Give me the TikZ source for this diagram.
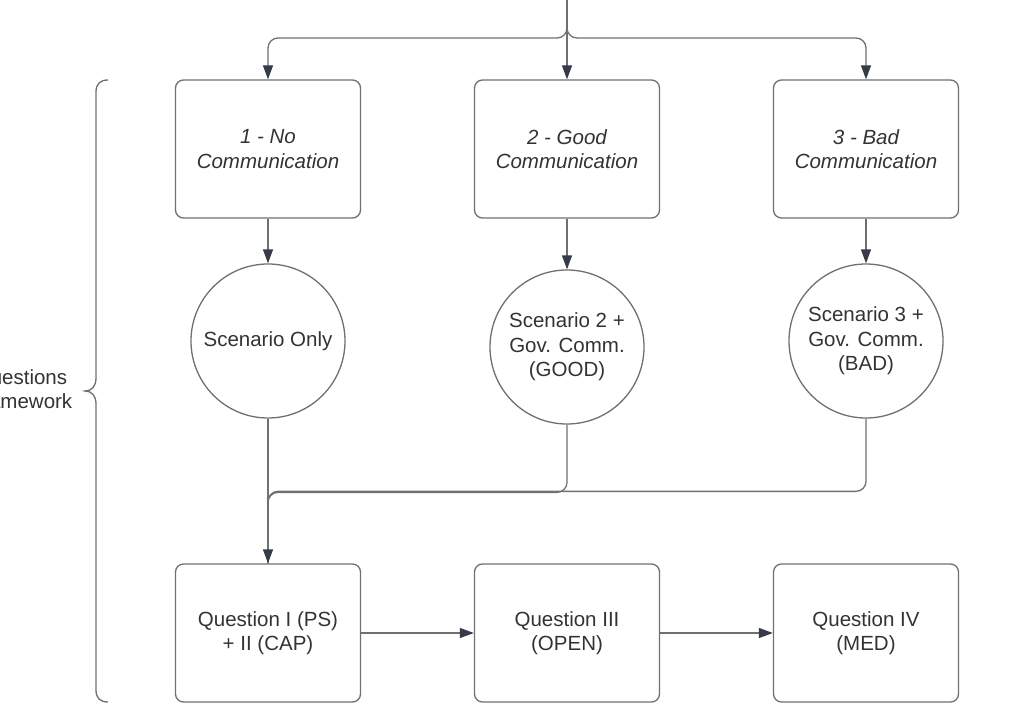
\documentclass[tikz,border=0pt]{standalone}
\usepackage{fontspec}
\setmainfont{Liberation Sans}
\usetikzlibrary{arrows.meta,calc}
\definecolor{linec}{HTML}{707070}
\definecolor{tipc}{HTML}{353B48}
\definecolor{textc}{HTML}{333333}
\tikzset{
  lbl/.style={text=textc, font=\fontsize{20.5}{24.5}\selectfont, align=center},
  stepbox/.style={lbl, draw=linec, line width=1.3pt, rounded corners=8pt,
    minimum width=185pt, minimum height=138pt, inner sep=0pt},
  scen/.style={lbl, draw=linec, line width=1.3pt, circle, minimum size=154pt, inner sep=0pt},
  conn/.style={draw=linec, line width=1.3pt, rounded corners=10pt,
    -{Triangle[length=14pt,width=10pt,color=tipc]}},
  wire/.style={draw=linec, line width=1.3pt, rounded corners=10pt}
}
\begin{document}
\begin{tikzpicture}[x=1pt,y=-1pt]
  \clip (0,0) rectangle (1015,725);
  \useasboundingbox (0,0) rectangle (1015,725);

  % communication conditions
  \node[stepbox] (b1) at (268,149) {\itshape 1 - No\\\itshape Communication};
  \node[stepbox] (b2) at (567,149) {\itshape 2 - Good\\\itshape Communication};
  \node[stepbox] (b3) at (866,149) {\itshape 3 - Bad\\\itshape Communication};

  % scenarios
  \node[scen] (c1) at (268,341) {Scenario Only};
  \node[scen] (c2) at (567,347) {Scenario 2 +\\Gov. Comm.\\(GOOD)};
  \node[scen] (c3) at (866,341) {Scenario 3 +\\Gov. Comm.\\(BAD)};

  % questions
  \node[stepbox] (q1) at (268,633) {Question I (PS)\\+ II (CAP)};
  \node[stepbox] (q2) at (567,633) {Question III\\(OPEN)};
  \node[stepbox] (q3) at (866,633) {Question IV\\(MED)};

  % incoming split
  \coordinate (src) at (567,-2);
  \draw[conn] (src) -- ++(0,40) -| (b1.north);
  \draw[conn] (src) -- ++(0,40) -| (b3.north);
  \draw[conn] (src) -- (b2.north);

  \draw[conn] (b1) -- (c1);
  \draw[conn] (b2) -- (c2);
  \draw[conn] (b3) -- (c3);

  % scenarios merge into the first questions
  \draw[wire] (c3.south) |- ([yshift=72pt]q1.north) -- (q1.north);
  \draw[wire] (c2.south) |- ([yshift=71pt]q1.north) -- (q1.north);
  \draw[conn] (c1.south) -- (q1.north);

  \draw[conn] (q1) -- (q2);
  \draw[conn] (q2) -- (q3);

  % framework brace
  \draw[draw=linec, line width=1.3pt]
    (108,80) .. controls (100,80) and (96,84) .. (96,92)
    -- (96,378) .. controls (96,386) and (92,391) .. (85,391)
    .. controls (92,391) and (96,396) .. (96,404)
    -- (96,690) .. controls (96,698) and (100,702) .. (108,702);
  \node[lbl, anchor=center] (fw) at (21,389) {Questions\\Framework};
\end{tikzpicture}
\end{document}
